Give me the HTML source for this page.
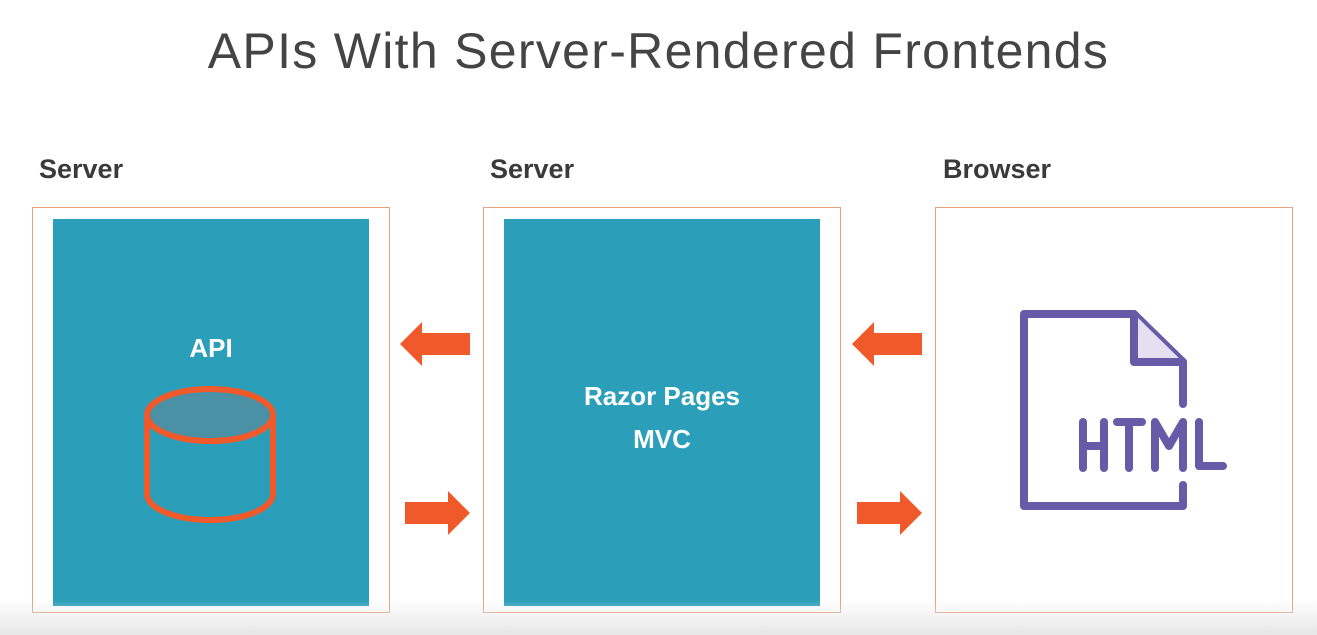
<!DOCTYPE html>
<html><head><style>
body{margin:0;width:1317px;height:635px;overflow:hidden;background:#fff;font-family:"Liberation Sans",sans-serif;position:relative}
.t{position:absolute;left:0;width:1317px;top:22px;text-align:center;font-size:50px;color:#444;font-weight:300;letter-spacing:1.3px}
.lab{position:absolute;top:154px;font-size:27px;font-weight:bold;color:#3a3a3a}
.box{position:absolute;top:207px;width:358px;height:406px;border:1px solid #e8a080;box-sizing:border-box;background:#fff}
.in{position:absolute;top:219px;width:316px;height:387px;background:#2b9fba}
.w{position:absolute;color:#fff;font-weight:bold;font-size:26px;text-align:center}
.bot{position:absolute;left:0;top:600px;width:1317px;height:35px;background:linear-gradient(rgba(255,255,255,0),#e6e6e6)}
</style></head><body>
<div class="t">APIs With Server-Rendered Frontends</div>
<div class="lab" style="left:39px">Server</div>
<div class="lab" style="left:490px">Server</div>
<div class="lab" style="left:943px">Browser</div>
<div class="box" style="left:32px"></div>
<div class="box" style="left:483px"></div>
<div class="box" style="left:935px"></div>
<div class="in" style="left:53px"></div>
<div class="in" style="left:504px"></div>
<div class="w" style="left:53px;width:316px;top:333px">API</div>
<div class="w" style="left:504px;width:316px;top:375px;line-height:43px">Razor Pages<br>MVC</div>
<svg width="1317" height="635" style="position:absolute;left:0;top:0">
<g fill="#f05a2b">
<polygon points="400,344 422,322 422,333 470,333 470,355 422,355 422,366"/>
<polygon points="852,344 874,322 874,333 922,333 922,355 874,355 874,366"/>
<polygon points="470,513 448,491 448,502 405,502 405,524 448,524 448,535"/>
<polygon points="922,513 900,491 900,502 857,502 857,524 900,524 900,535"/>
</g>
<ellipse cx="210" cy="415" rx="63" ry="26" fill="#4a91a6" stroke="#f05a2b" stroke-width="6"/>
<path d="M147,415 V494 A63,26 0 0 0 273,494 V415" fill="none" stroke="#f05a2b" stroke-width="6"/>
<g fill="none" stroke="#675ba8" stroke-width="8" stroke-linecap="round" stroke-linejoin="round">
<path d="M1183,404 V362 L1134,314 H1024 V506 H1183 V485"/>
<path d="M1134,314 V362 H1183" fill="#e4e0f2"/>
<path d="M1083,422 V468 M1104,422 V468 M1083,446 H1104"/>
<path d="M1117,422 H1142 M1129,422 V468"/>
<path d="M1155,468 V422 L1169,446 L1183,422 V468"/>
<path d="M1199,422 V466 H1223"/>
</g>
</svg>
<div class="bot"></div>
</body></html>
